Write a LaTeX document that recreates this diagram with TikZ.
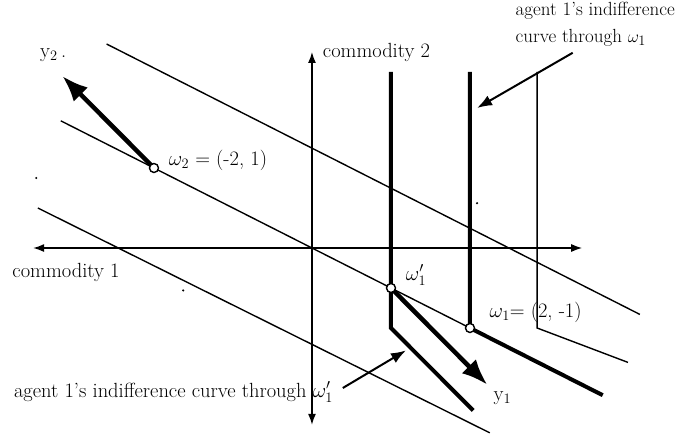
\documentclass[tikz,border=0pt]{standalone}
\usepackage{amsmath}
\usetikzlibrary{arrows.meta}

\begin{document}
\begin{tikzpicture}[x=79pt,y=80pt,line width=1.4pt,font=\fontsize{20.5}{27}\selectfont]
\useasboundingbox (-3.949,-2.375) rectangle (4.633,3.1);
\coordinate (O) at (0,0);
\coordinate (w2) at (-2,1);
\coordinate (w1) at (2,-1);
\coordinate (w1p) at (1,-.5);
% axes
\draw[{Latex[length=11pt,width=8pt]}-{Latex[length=11pt,width=8pt]}] (-3.53,0)--(3.42,0);
\draw[{Latex[length=11pt,width=8pt]}-{Latex[length=11pt,width=8pt]}] (0,-2.21)--(0,2.45);
% budget lines
\draw (-2.6,2.55)--(4.15,-.83) (-3.18,1.59)--(w1) (-3.47,.5)--(2.25,-2.31);
% indifference curves
\draw[line width=4pt] (1,2.2)--(1,-1)--(2.04,-2.03);
\draw[line width=4pt] (2,2.2)--(w1)--(3.68,-1.84);
\draw (2.85,2.2)--(2.85,-1)--(4,-1.43);
% net trades
\draw[line width=4.5pt,-{Latex[length=26pt,width=20pt]}] (w2)--(-3.16,2.15);
\draw[line width=4.5pt,-{Latex[length=26pt,width=20pt]}] (w1p)--(2.22,-1.71);
\draw[line width=2pt,-{Latex[length=15pt,width=11pt]}] (3.30,2.44)--(2.09,1.75);
\draw[line width=2pt,-{Latex[length=15pt,width=11pt]}] (.39,-1.75)--(1.19,-1.28);
\foreach \p in {w2,w1,w1p} \filldraw[fill=white] (\p) circle (4.5pt);
\fill (-3.49,.875) circle (1.2pt) (-1.63,-.53) circle (1.2pt) (2.09,.56) circle (1.2pt);
\node[anchor=west,inner sep=0pt] at (-3.45,2.41) {y$_2$\,.};
\node[anchor=west,inner sep=0pt] at (-1.82,1.1) {$\omega_2$ = (-2, 1)};
\node[anchor=west,inner sep=0pt] at (.13,2.45) {commodity 2};
\node[anchor=north west,align=left,inner sep=0pt,font=\fontsize{19}{27}\selectfont] at (2.57,3.08) {agent 1's indifference\\curve through $\omega_1$};
\node[anchor=west,inner sep=0pt] at (-3.8,-.31) {commodity 1};
\node[anchor=west,inner sep=0pt] at (1.18,-.34) {$\omega'_1$};
\node[anchor=west,inner sep=0pt] at (2.24,-.8) {$\omega_1$= (2, -1)};
\node[anchor=west,inner sep=0pt] at (2.29,-1.88) {y$_1$};
\node[anchor=west,inner sep=0pt] at (-3.78,-1.8) {agent 1's indifference curve through $\omega'_1$};
\end{tikzpicture}
\end{document}
